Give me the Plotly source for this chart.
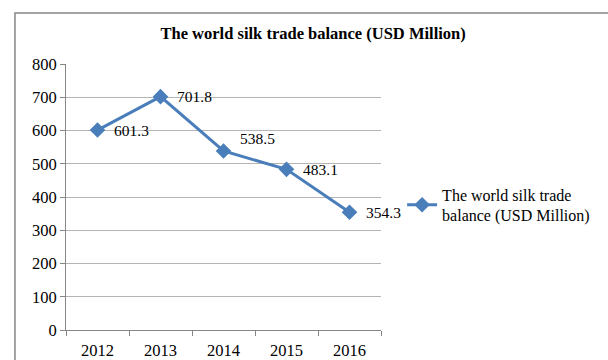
import plotly.graph_objects as go

# Data
years = ["2012", "2013", "2014", "2015", "2016"]
balance = [601.3, 701.8, 538.5, 483.1, 354.3]
series_name = "The world silk trade balance (USD Million)"
legend_label = "The world silk trade<br>balance (USD Million)"
y_ticks = [0, 100, 200, 300, 400, 500, 600, 700, 800]

LINE_COLOR = "#4a7ebb"
SERIF = "Liberation Serif, Times New Roman, serif"

fig = go.Figure()
fig.add_trace(go.Scatter(
    x=years,
    y=balance,
    mode="lines+markers",
    name=legend_label,
    line=dict(color=LINE_COLOR, width=3),
    marker=dict(symbol="diamond", size=12, color=LINE_COLOR),
))

# Value labels to the right of each point (2014 label sits a bit higher);
# category positions are given by index so they map onto the category axis
label_lift = {"2014": 12}
for i, (yr, val) in enumerate(zip(years, balance)):
    fig.add_annotation(
        x=i, y=val, text=f"{val:.1f}", showarrow=False,
        xanchor="left", yanchor="middle", xshift=14,
        yshift=label_lift.get(yr, 0),
        font=dict(family=SERIF, size=15.5, color="#000000"),
    )

# Outer chart frame
fig.add_shape(
    type="rect", xref="paper", yref="paper",
    x0=-0.162, y0=-0.3, x1=2.2, y1=1.1917,
    line=dict(color="#878787", width=1.5), fillcolor="rgba(0,0,0,0)",
    layer="below",
)

fig.update_layout(
    width=608, height=360,
    margin=dict(l=66, r=227, t=64, b=30, autoexpand=False),
    paper_bgcolor="#ffffff", plot_bgcolor="#ffffff",
    title=dict(
        text="<b>" + series_name + "</b>",
        x=0.515, xanchor="center", y=1 - 33 / 360, yanchor="middle",
        font=dict(family=SERIF, size=16.5, color="#000000"),
    ),
    showlegend=True,
    legend=dict(
        x=1.067, y=0.47,
        xanchor="left", yanchor="middle",
        font=dict(family=SERIF, size=16, color="#000000"),
        bgcolor="rgba(0,0,0,0)", borderwidth=0,
    ),
    xaxis=dict(
        type="category",
        range=[-0.5, len(years) - 0.5],
        showgrid=False,
        showline=True, linecolor="#868686", linewidth=1,
        ticks="outside", tickson="boundaries", ticklen=5, tickcolor="#868686",
        ticklabelstandoff=5,
        tickfont=dict(family=SERIF, size=16.5, color="#000000"),
        fixedrange=True,
    ),
    yaxis=dict(
        range=[0, 800],
        tickvals=y_ticks,
        showgrid=True, gridcolor="#b4b4b4", gridwidth=1,
        showline=True, linecolor="#868686", linewidth=1,
        ticks="outside", ticklen=5, tickcolor="#868686",
        tickfont=dict(family=SERIF, size=16.5, color="#000000"),
        zeroline=False,
        fixedrange=True,
    ),
)

fig.write_html("out.html")
